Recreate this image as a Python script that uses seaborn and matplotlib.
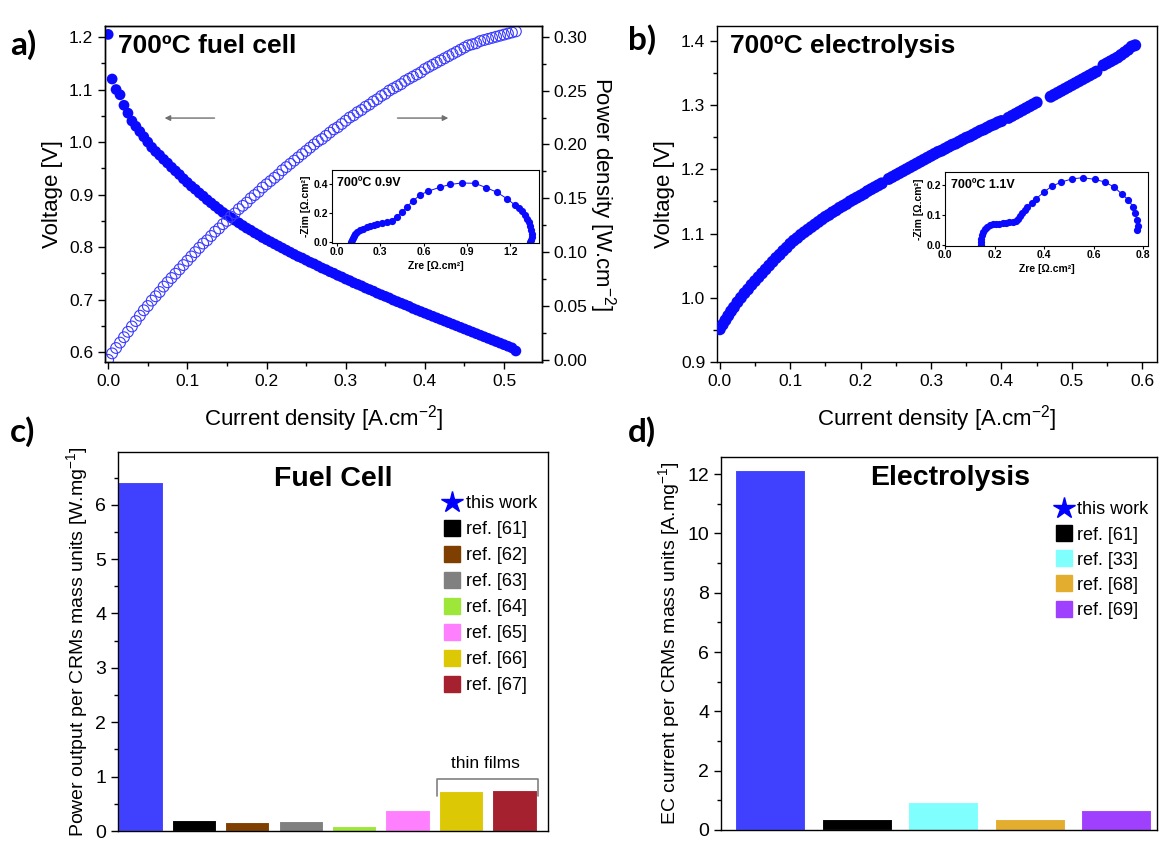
import matplotlib
matplotlib.use("Agg")
import seaborn as sns
import matplotlib.pyplot as plt
from matplotlib.lines import Line2D
from matplotlib.ticker import MultipleLocator

# ---- a) fuel cell polarisation / power curve at 700 C ----
fc_current = [0.000, 0.005, 0.010, 0.015, 0.020, 0.025, 0.030, 0.035, 0.040, 0.045,
              0.050, 0.055, 0.060, 0.065, 0.070, 0.075, 0.080, 0.085, 0.090, 0.095,
              0.100, 0.105, 0.110, 0.115, 0.120, 0.125, 0.130, 0.135, 0.140, 0.145,
              0.150, 0.155, 0.160, 0.165, 0.170, 0.175, 0.180, 0.185, 0.190, 0.195,
              0.200, 0.205, 0.210, 0.215, 0.220, 0.225, 0.230, 0.235, 0.240, 0.245,
              0.250, 0.255, 0.260, 0.265, 0.270, 0.275, 0.280, 0.285, 0.290, 0.295,
              0.300, 0.305, 0.310, 0.315, 0.320, 0.325, 0.330, 0.335, 0.340, 0.345,
              0.350, 0.355, 0.360, 0.365, 0.370, 0.375, 0.380, 0.385, 0.390, 0.395,
              0.400, 0.405, 0.410, 0.415, 0.420, 0.425, 0.430, 0.435, 0.440, 0.445,
              0.450, 0.455, 0.460, 0.465, 0.470, 0.475, 0.480, 0.485, 0.490, 0.495,
              0.500, 0.505, 0.510, 0.515]
fc_voltage = [1.205, 1.120, 1.100, 1.090, 1.070, 1.055, 1.040, 1.030, 1.020, 1.010,
              1.000, 0.990, 0.982, 0.975, 0.967, 0.960, 0.952, 0.945, 0.938, 0.930,
              0.923, 0.916, 0.910, 0.903, 0.897, 0.890, 0.884, 0.878, 0.872, 0.866,
              0.861, 0.856, 0.851, 0.846, 0.841, 0.836, 0.832, 0.827, 0.823, 0.818,
              0.814, 0.810, 0.806, 0.802, 0.798, 0.794, 0.790, 0.786, 0.782, 0.779,
              0.775, 0.771, 0.768, 0.764, 0.760, 0.757, 0.753, 0.750, 0.746, 0.743,
              0.739, 0.736, 0.732, 0.729, 0.726, 0.722, 0.719, 0.716, 0.712, 0.709,
              0.706, 0.703, 0.699, 0.696, 0.693, 0.690, 0.687, 0.683, 0.680, 0.677,
              0.674, 0.671, 0.668, 0.665, 0.662, 0.659, 0.656, 0.653, 0.650, 0.647,
              0.644, 0.641, 0.638, 0.635, 0.632, 0.629, 0.626, 0.623, 0.620, 0.617,
              0.614, 0.611, 0.608, 0.602]
fc_power = [0.000, 0.006, 0.011, 0.016, 0.021, 0.026, 0.031, 0.036, 0.041, 0.046,
            0.050, 0.055, 0.059, 0.063, 0.068, 0.072, 0.076, 0.080, 0.084, 0.088,
            0.092, 0.096, 0.100, 0.104, 0.108, 0.111, 0.115, 0.119, 0.122, 0.126,
            0.129, 0.133, 0.136, 0.140, 0.143, 0.146, 0.150, 0.153, 0.156, 0.160,
            0.163, 0.166, 0.169, 0.172, 0.176, 0.179, 0.182, 0.185, 0.188, 0.191,
            0.194, 0.197, 0.200, 0.203, 0.205, 0.208, 0.211, 0.214, 0.216, 0.219,
            0.222, 0.225, 0.227, 0.230, 0.232, 0.235, 0.237, 0.240, 0.242, 0.245,
            0.247, 0.250, 0.252, 0.254, 0.256, 0.259, 0.261, 0.263, 0.265, 0.267,
            0.270, 0.272, 0.274, 0.276, 0.278, 0.280, 0.282, 0.284, 0.286, 0.288,
            0.290, 0.292, 0.293, 0.294, 0.296, 0.297, 0.298, 0.299, 0.300, 0.301,
            0.302, 0.303, 0.304, 0.305]

# inset a) impedance at 0.9 V
nyq_a_zre = [0.100, 0.103, 0.108, 0.115, 0.125, 0.140, 0.160, 0.183, 0.205, 0.229,
             0.255, 0.280, 0.310, 0.345, 0.379, 0.414, 0.449, 0.483, 0.529, 0.576,
             0.633, 0.714, 0.784, 0.865, 0.957, 1.033, 1.107, 1.177, 1.234, 1.260,
             1.281, 1.300, 1.316, 1.328, 1.338, 1.345, 1.350, 1.350, 1.345, 1.338]
nyq_a_zim = [0.000, 0.015, 0.030, 0.045, 0.058, 0.070, 0.083, 0.093, 0.103, 0.112,
             0.120, 0.127, 0.133, 0.140, 0.150, 0.178, 0.207, 0.245, 0.288, 0.328,
             0.354, 0.381, 0.400, 0.410, 0.408, 0.378, 0.347, 0.302, 0.257, 0.235,
             0.214, 0.188, 0.162, 0.137, 0.112, 0.085, 0.058, 0.035, 0.015, 0.000]

# ---- b) electrolysis curve at 700 C ----
ec_current = [0.000, 0.004, 0.008, 0.012, 0.016, 0.020, 0.025, 0.030, 0.035, 0.040,
              0.045, 0.050, 0.055, 0.060, 0.065, 0.070, 0.075, 0.080, 0.085, 0.090,
              0.095, 0.100, 0.105, 0.110, 0.115, 0.120, 0.125, 0.130, 0.135, 0.140,
              0.145, 0.150, 0.155, 0.160, 0.165, 0.170, 0.175, 0.180, 0.185, 0.190,
              0.195, 0.200, 0.205, 0.210, 0.215, 0.220, 0.225, 0.230, 0.240, 0.245,
              0.250, 0.255, 0.260, 0.265, 0.270, 0.275, 0.280, 0.285, 0.290, 0.295,
              0.300, 0.305, 0.310, 0.315, 0.320, 0.325, 0.330, 0.335, 0.340, 0.345,
              0.350, 0.355, 0.360, 0.365, 0.370, 0.375, 0.380, 0.385, 0.390, 0.395,
              0.400, 0.410, 0.415, 0.420, 0.425, 0.430, 0.435, 0.440, 0.445, 0.450,
              0.470, 0.475, 0.480, 0.485, 0.490, 0.495, 0.500, 0.505, 0.510, 0.515,
              0.520, 0.525, 0.530, 0.535, 0.545, 0.550, 0.555, 0.560, 0.565, 0.570,
              0.575, 0.580, 0.585, 0.590]
ec_voltage = [0.951, 0.958, 0.965, 0.972, 0.979, 0.985, 0.993, 1.000, 1.007, 1.013,
              1.020, 1.026, 1.032, 1.038, 1.044, 1.050, 1.056, 1.062, 1.067, 1.073,
              1.078, 1.084, 1.089, 1.093, 1.098, 1.102, 1.106, 1.110, 1.114, 1.118,
              1.122, 1.126, 1.129, 1.133, 1.136, 1.140, 1.143, 1.146, 1.150, 1.153,
              1.156, 1.159, 1.162, 1.166, 1.169, 1.172, 1.175, 1.178, 1.185, 1.188,
              1.191, 1.194, 1.197, 1.200, 1.203, 1.206, 1.209, 1.212, 1.215, 1.218,
              1.221, 1.224, 1.227, 1.229, 1.232, 1.235, 1.238, 1.240, 1.243, 1.246,
              1.249, 1.251, 1.254, 1.257, 1.260, 1.262, 1.265, 1.268, 1.270, 1.273,
              1.275, 1.280, 1.283, 1.286, 1.289, 1.292, 1.295, 1.298, 1.301, 1.304,
              1.313, 1.316, 1.319, 1.322, 1.325, 1.328, 1.331, 1.334, 1.337, 1.340,
              1.343, 1.346, 1.349, 1.352, 1.362, 1.365, 1.368, 1.371, 1.374, 1.378,
              1.382, 1.386, 1.391, 1.393]

# inset b) impedance at 1.1 V
nyq_b_zre = [0.144, 0.145, 0.147, 0.150, 0.153, 0.160, 0.169, 0.180, 0.193, 0.207,
             0.220, 0.235, 0.247, 0.260, 0.273, 0.285, 0.293, 0.303, 0.313, 0.323,
             0.333, 0.353, 0.369, 0.400, 0.431, 0.469, 0.513, 0.557, 0.607, 0.647,
             0.684, 0.713, 0.740, 0.760, 0.769, 0.775, 0.778, 0.775]
nyq_b_zim = [0.000, 0.011, 0.022, 0.033, 0.044, 0.053, 0.061, 0.066, 0.070, 0.071,
             0.072, 0.073, 0.074, 0.076, 0.078, 0.082, 0.087, 0.096, 0.106, 0.117,
             0.128, 0.141, 0.156, 0.178, 0.197, 0.211, 0.222, 0.226, 0.220, 0.211,
             0.194, 0.172, 0.152, 0.128, 0.106, 0.083, 0.065, 0.052]

# ---- c) fuel cell comparison ----
fc_refs = ["this work", "ref. [61]", "ref. [62]", "ref. [63]", "ref. [64]",
           "ref. [65]", "ref. [66]", "ref. [67]"]
fc_mass_power = [6.42, 0.21, 0.16, 0.19, 0.09, 0.39, 0.74, 0.76]
fc_colors = ["#4040ff", "#000000", "#7f3f00", "#808080", "#9ee63a",
             "#ff80ff", "#dcc805", "#a52130"]

# ---- d) electrolysis comparison ----
ec_refs = ["this work", "ref. [61]", "ref. [33]", "ref. [68]", "ref. [69]"]
ec_mass_current = [12.13, 0.38, 0.93, 0.36, 0.69]
ec_colors = ["#4040ff", "#000000", "#80ffff", "#e3ae30", "#a040ff"]

sns.set_style("ticks", {"axes.edgecolor": "black", "xtick.color": "black",
                        "ytick.color": "black", "text.color": "black",
                        "axes.labelcolor": "black"})
plt.rcParams['font.family'] = ['Liberation Sans', 'DejaVu Sans']
plt.rcParams['mathtext.fontset'] = 'custom'
plt.rcParams['mathtext.rm'] = 'Liberation Sans'
plt.rcParams['mathtext.it'] = 'Liberation Sans:italic'
plt.rcParams['mathtext.bf'] = 'Liberation Sans:bold'
plt.rcParams['axes.linewidth'] = 1.0

W, H = 1159, 850
fig = plt.figure(figsize=(W / 100, H / 100), dpi=100)


def box(l, t, r, b):
    return [l / W, 1 - b / H, (r - l) / W, (b - t) / H]


def ticks(ax, size=12.5):
    ax.tick_params(which='major', direction='out', length=5, width=1, labelsize=size)
    ax.tick_params(which='minor', direction='out', length=3, width=1)


def inset_style(ax):
    ax.tick_params(which='major', direction='out', length=2, width=0.8,
                   labelsize=7.5, pad=1)
    for lbl in ax.get_xticklabels() + ax.get_yticklabels():
        lbl.set_fontweight('bold')
    for s in ax.spines.values():
        s.set_linewidth(0.8)


blue = '#0a0aff'

# ---------------- panel a ----------------
ax_a = fig.add_axes(box(105, 26, 542, 362))
sns.scatterplot(x=fc_current, y=fc_voltage, ax=ax_a, color=blue, s=60,
                edgecolor='none', zorder=3)
ax_a.set_xlim(-0.004, 0.548)
ax_a.set_ylim(0.581, 1.221)
ax_a.xaxis.set_major_locator(MultipleLocator(0.1))
ax_a.xaxis.set_minor_locator(MultipleLocator(0.05))
ax_a.yaxis.set_major_locator(MultipleLocator(0.1))
ax_a.yaxis.set_minor_locator(MultipleLocator(0.05))
ax_a.set_xlabel('Current density [A.cm$^{-2}$]', fontsize=16, labelpad=10)
ax_a.set_ylabel('Voltage [V]', fontsize=16)
ticks(ax_a)

ax_p = ax_a.twinx()
sns.scatterplot(x=fc_current, y=fc_power, ax=ax_p, marker='o', s=60,
                facecolor='none', edgecolor='#3a3aff', linewidth=0.8)
ax_p.set_ylim(-0.002, 0.31)
ax_p.yaxis.set_major_locator(MultipleLocator(0.05))
ax_p.yaxis.set_minor_locator(MultipleLocator(0.025))
ax_p.yaxis.set_major_formatter(matplotlib.ticker.FormatStrFormatter('%.2f'))
ax_p.set_ylabel('Power density [W.cm$^{-2}$]', fontsize=16, rotation=270, labelpad=22)
ticks(ax_p)

ax_a.text(0.03, 0.94, '700ºC fuel cell', transform=ax_a.transAxes,
          fontsize=19, fontweight='bold', va='center')
ax_a.annotate('', xy=(0.13, 0.726), xytext=(0.257, 0.726), xycoords='axes fraction',
              arrowprops=dict(arrowstyle='-|>', color='#707070', lw=1.0,
                              mutation_scale=8))
ax_a.annotate('', xy=(0.792, 0.726), xytext=(0.663, 0.726), xycoords='axes fraction',
              arrowprops=dict(arrowstyle='-|>', color='#707070', lw=1.0,
                              mutation_scale=8))

ax_ia = fig.add_axes(box(332, 170, 539, 243))
ax_ia.set_facecolor('white')
sns.lineplot(x=nyq_a_zre, y=nyq_a_zim, ax=ax_ia, sort=False, estimator=None,
             marker='o', markersize=5.2, markeredgecolor='none', color=blue,
             linewidth=0.7)
ax_ia.set_xlim(-0.035, 1.40)
ax_ia.set_ylim(-0.005, 0.50)
ax_ia.set_xticks([0.0, 0.3, 0.6, 0.9, 1.2])
ax_ia.set_yticks([0.0, 0.2, 0.4])
ax_ia.xaxis.set_major_formatter(matplotlib.ticker.FormatStrFormatter('%.1f'))
ax_ia.yaxis.set_major_formatter(matplotlib.ticker.FormatStrFormatter('%.1f'))
inset_style(ax_ia)
ax_ia.set_xlabel('Zre [Ω.cm²]', fontsize=7.5, fontweight='bold', labelpad=3)
ax_ia.set_ylabel('-Zim [Ω.cm²]', fontsize=7.5, fontweight='bold', labelpad=2)
ax_ia.text(0.025, 0.82, '700ºC 0.9V', transform=ax_ia.transAxes, fontsize=9,
           fontweight='bold', va='center')

# ---------------- panel b ----------------
ax_b = fig.add_axes(box(717, 26, 1157, 362))
sns.scatterplot(x=ec_current, y=ec_voltage, ax=ax_b, color=blue, s=75,
                edgecolor='none', zorder=3)
ax_b.set_xlim(-0.004, 0.621)
ax_b.set_ylim(0.9, 1.423)
ax_b.xaxis.set_major_locator(MultipleLocator(0.1))
ax_b.xaxis.set_minor_locator(MultipleLocator(0.05))
ax_b.yaxis.set_major_locator(MultipleLocator(0.1))
ax_b.yaxis.set_minor_locator(MultipleLocator(0.05))
ax_b.set_xlabel('Current density [A.cm$^{-2}$]', fontsize=16, labelpad=10)
ax_b.set_ylabel('Voltage [V]', fontsize=16)
ticks(ax_b)
ax_b.text(0.03, 0.94, '700ºC electrolysis', transform=ax_b.transAxes,
          fontsize=19, fontweight='bold', va='center')

ax_ib = fig.add_axes(box(945, 172, 1148, 246))
ax_ib.set_facecolor('white')
sns.lineplot(x=nyq_b_zre, y=nyq_b_zim, ax=ax_ib, sort=False, estimator=None,
             marker='o', markersize=5.2, markeredgecolor='none', color=blue,
             linewidth=0.7)
ax_ib.set_xlim(0.0, 0.82)
ax_ib.set_ylim(-0.003, 0.245)
ax_ib.set_xticks([0.0, 0.2, 0.4, 0.6, 0.8])
ax_ib.set_yticks([0.0, 0.1, 0.2])
ax_ib.xaxis.set_major_formatter(matplotlib.ticker.FormatStrFormatter('%.1f'))
ax_ib.yaxis.set_major_formatter(matplotlib.ticker.FormatStrFormatter('%.1f'))
inset_style(ax_ib)
ax_ib.set_xlabel('Zre [Ω.cm²]', fontsize=7.5, fontweight='bold', labelpad=3)
ax_ib.set_ylabel('-Zim [Ω.cm²]', fontsize=7.5, fontweight='bold', labelpad=2)
ax_ib.text(0.03, 0.82, '700ºC 1.1V', transform=ax_ib.transAxes, fontsize=9,
           fontweight='bold', va='center')

# ---------------- panel c ----------------
ax_c = fig.add_axes(box(118, 452, 548, 831))
sns.barplot(x=fc_refs, y=fc_mass_power, hue=fc_refs,
            palette=dict(zip(fc_refs, fc_colors)), saturation=1, width=0.83,
            legend=False, edgecolor='white', linewidth=0.8, ax=ax_c)
ax_c.set_xlim(-0.42, 7.63)
ax_c.set_ylim(0, 6.97)
ax_c.set_xticks([])
ax_c.set_xlabel('')
ax_c.yaxis.set_major_locator(MultipleLocator(1))
ax_c.yaxis.set_minor_locator(MultipleLocator(0.5))
ticks(ax_c, 14)
ax_c.set_ylabel('Power output per CRMs mass units [W.mg$^{-1}$]', fontsize=14, labelpad=4)
ax_c.text(0.5, 0.93, 'Fuel Cell', transform=ax_c.transAxes, fontsize=20.5,
          fontweight='bold', ha='center', va='center')
# thin films bracket over the last two bars
ax_c.plot([5.55, 5.55, 7.45, 7.45], [0.65, 0.96, 0.96, 0.65], color='#808080', lw=1.2)
ax_c.text(6.45, 1.25, 'thin films', fontsize=12.5, ha='center', va='center')
handles = [Line2D([], [], marker='*', color='#0000ff', linestyle='none', markersize=16)]
handles += [Line2D([], [], marker='s', color=c, linestyle='none', markersize=11)
            for c in fc_colors[1:]]
ax_c.legend(handles, fc_refs, loc='upper right', bbox_to_anchor=(1.0, 0.915),
            frameon=False, fontsize=13, handlelength=0.9, handletextpad=0.3,
            labelspacing=0.5, borderaxespad=0.2)

# ---------------- panel d ----------------
ax_d = fig.add_axes(box(721, 457, 1157, 830))
sns.barplot(x=ec_refs, y=ec_mass_current, hue=ec_refs,
            palette=dict(zip(ec_refs, ec_colors)), saturation=1, width=0.81,
            legend=False, edgecolor='white', linewidth=0.8, ax=ax_d)
ax_d.set_xlim(-0.57, 4.47)
ax_d.set_ylim(0, 12.58)
ax_d.set_xticks([])
ax_d.set_xlabel('')
ax_d.yaxis.set_major_locator(MultipleLocator(2))
ax_d.yaxis.set_minor_locator(MultipleLocator(1))
ticks(ax_d, 14)
ax_d.set_ylabel('EC current per CRMs mass units [A.mg$^{-1}$]', fontsize=14, labelpad=4)
ax_d.text(0.525, 0.944, 'Electrolysis', transform=ax_d.transAxes, fontsize=20.5,
          fontweight='bold', ha='center', va='center')
handles = [Line2D([], [], marker='*', color='#0000ff', linestyle='none', markersize=16)]
handles += [Line2D([], [], marker='s', color=c, linestyle='none', markersize=11)
            for c in ec_colors[1:]]
ax_d.legend(handles, ec_refs, loc='upper right', bbox_to_anchor=(1.005, 0.91),
            frameon=False, fontsize=13, handlelength=0.9, handletextpad=0.3,
            labelspacing=0.45, borderaxespad=0.2)

# panel letters
for lbl, x, y in [('a)', 10, 45), ('b)', 628, 40), ('c)', 10, 432), ('d)', 628, 432)]:
    fig.text(x / W, 1 - y / H, lbl, fontsize=24, fontweight='bold', va='center',
             family=['Lato', 'DejaVu Sans'])

fig.savefig('out.png', dpi=100)
